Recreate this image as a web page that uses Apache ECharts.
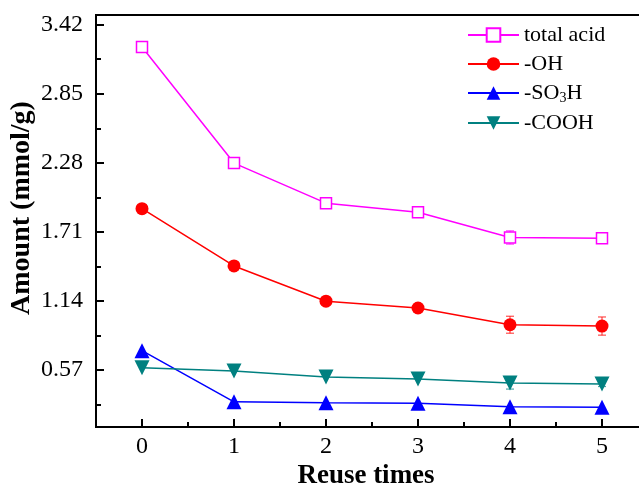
<!DOCTYPE html>
<html>
<head>
<meta charset="utf-8">
<script src="https://cdn.jsdelivr.net/npm/echarts@6/dist/echarts.min.js"></script>
<style>
  html, body { margin: 0; padding: 0; background: #fff; }
  #chart { width: 639px; height: 490px; }
</style>
</head>
<body>
<div id="chart"></div>
<script>
// reuse cycles and measured acid amounts (mmol/g)
const reuseTimes = [0, 1, 2, 3, 4, 5];
const totalAcid = [3.236, 2.278, 1.947, 1.872, 1.664, 1.658];
const ohValues = [1.902, 1.429, 1.138, 1.082, 0.944, 0.933];
const so3hValues = [0.73, 0.308, 0.30, 0.297, 0.267, 0.262];
const coohValues = [0.589, 0.562, 0.512, 0.496, 0.463, 0.454];

// error bars (half width)
const totalErr = [0, 0, 0, 0.03, 0.055, 0.02];
const ohErr = [0, 0, 0, 0, 0.07, 0.075];
const so3hErr = [0, 0, 0, 0, 0, 0];
const coohErr = [0, 0, 0, 0, 0.05, 0.02];

// axis ticks
const yLabels = [0.57, 1.14, 1.71, 2.28, 2.85, 3.42];
const yMinor = [0.285, 0.855, 1.425, 1.995, 2.565, 3.135];
const xMinor = [0.5, 1.5, 2.5, 3.5, 4.5];

const font = 'Liberation Serif';

function pairs(vals) {
  return reuseTimes.map((x, i) => [x, vals[i]]);
}

function errData(vals, errs) {
  return reuseTimes.map((x, i) => [x, vals[i], errs[i]]).filter(d => d[2] > 0);
}

function errSeries(vals, errs, color) {
  return {
    type: 'custom',
    data: errData(vals, errs),
    silent: true,
    z: 3,
    renderItem: function (params, api) {
      const x = api.value(0), y = api.value(1), e = api.value(2);
      const top = api.coord([x, y + e]);
      const bot = api.coord([x, y - e]);
      const style = { stroke: color, lineWidth: 1.2, opacity: 0.7 };
      return {
        type: 'group',
        children: [
          { type: 'line', shape: { x1: top[0], y1: top[1], x2: bot[0], y2: bot[1] }, style: style },
          { type: 'line', shape: { x1: top[0] - 4, y1: top[1], x2: top[0] + 4, y2: top[1] }, style: style },
          { type: 'line', shape: { x1: bot[0] - 4, y1: bot[1], x2: bot[0] + 4, y2: bot[1] }, style: style }
        ]
      };
    }
  };
}

const chart = echarts.init(document.getElementById('chart'));

const option = {
  animation: false,
  grid: {
    left: 96, right: -9, top: 15, bottom: 63,
    outerBoundsMode: 'none',
    containLabel: false,
    show: true, borderColor: '#000', borderWidth: 2
  },
  legend: {
    orient: 'vertical',
    left: 467,
    top: 24,
    padding: 0,
    itemWidth: 51,
    itemHeight: 17,
    itemGap: 7,
    textStyle: {
      fontFamily: font, fontSize: 22, color: '#000',
      rich: {
        sub: { fontFamily: font, fontSize: 14, color: '#000', padding: [10, 0, 0, 0] }
      }
    },
    formatter: function (name) {
      return name === '-SO3H' ? '-SO{sub|3}H' : name;
    },
    data: ['total acid', '-OH', '-SO3H', '-COOH']
  },
  xAxis: [
    {
      type: 'value', min: -0.5, max: 5.5, position: 'bottom',
      name: 'Reuse times', nameLocation: 'middle', nameGap: 36,
      nameMoveOverlap: false,
      nameTextStyle: { fontFamily: font, fontSize: 27, fontWeight: 'bold', color: '#000', padding: [0, 12, 0, 0] },
      axisLine: { onZero: false, lineStyle: { color: '#000', width: 2 } },
      axisTick: { inside: true, length: 8, customValues: reuseTimes, lineStyle: { color: '#000', width: 2 } },
      axisLabel: { customValues: reuseTimes, fontFamily: font, fontSize: 24, color: '#000', margin: 8 },
      splitLine: { show: false }
    },
    {
      type: 'value', min: -0.5, max: 5.5, position: 'bottom', offset: 0,
      axisLine: { show: false, onZero: false },
      axisTick: { inside: true, length: 5, customValues: xMinor, lineStyle: { color: '#000', width: 2 } },
      axisLabel: { show: false },
      splitLine: { show: false }
    }
  ],
  yAxis: [
    {
      type: 'value', min: 0.1, max: 3.5, position: 'left',
      name: 'Amount (mmol/g)', nameLocation: 'middle', nameGap: 60,
      nameMoveOverlap: false,
      nameTextStyle: { fontFamily: font, fontSize: 28, fontWeight: 'bold', color: '#000', padding: [0, 0, 0, 26] },
      axisLine: { show: true, onZero: false, lineStyle: { color: '#000', width: 2 } },
      axisTick: { show: true, inside: true, length: 8, customValues: yLabels, lineStyle: { color: '#000', width: 2 } },
      axisLabel: {
        customValues: yLabels, fontFamily: font, fontSize: 24, color: '#000', margin: 13,
        formatter: v => v.toFixed(2)
      },
      splitLine: { show: false }
    },
    {
      type: 'value', min: 0.1, max: 3.5, position: 'left', offset: 0,
      axisLine: { show: false, onZero: false },
      axisTick: { show: true, inside: true, length: 5, customValues: yMinor, lineStyle: { color: '#000', width: 2 } },
      axisLabel: { show: false },
      splitLine: { show: false }
    }
  ],
  series: [
    {
      name: 'total acid', type: 'line', data: pairs(totalAcid),
      symbol: 'rect', symbolSize: 11, z: 4,
      lineStyle: { color: '#FF00FF', width: 1.5 },
      itemStyle: { color: '#fff', borderColor: '#FF00FF', borderWidth: 1.5 }
    },
    {
      name: '-OH', type: 'line', data: pairs(ohValues),
      symbol: 'circle', symbolSize: 13, z: 4,
      lineStyle: { color: '#FF0000', width: 1.5 },
      itemStyle: { color: '#FF0000' }
    },
    {
      name: '-SO3H', type: 'line', data: pairs(so3hValues),
      symbol: 'triangle', symbolSize: 15, z: 4,
      lineStyle: { color: '#0000FF', width: 1.5 },
      itemStyle: { color: '#0000FF' }
    },
    {
      name: '-COOH', type: 'line', data: pairs(coohValues),
      symbol: 'triangle', symbolSize: 15, symbolRotate: 180, z: 4,
      lineStyle: { color: '#008080', width: 1.5 },
      itemStyle: { color: '#008080' }
    },
    errSeries(totalAcid, totalErr, '#FF00FF'),
    errSeries(ohValues, ohErr, '#FF0000'),
    errSeries(so3hValues, so3hErr, '#0000FF'),
    errSeries(coohValues, coohErr, '#008080')
  ]
};

chart.setOption(option);
</script>
</body>
</html>
